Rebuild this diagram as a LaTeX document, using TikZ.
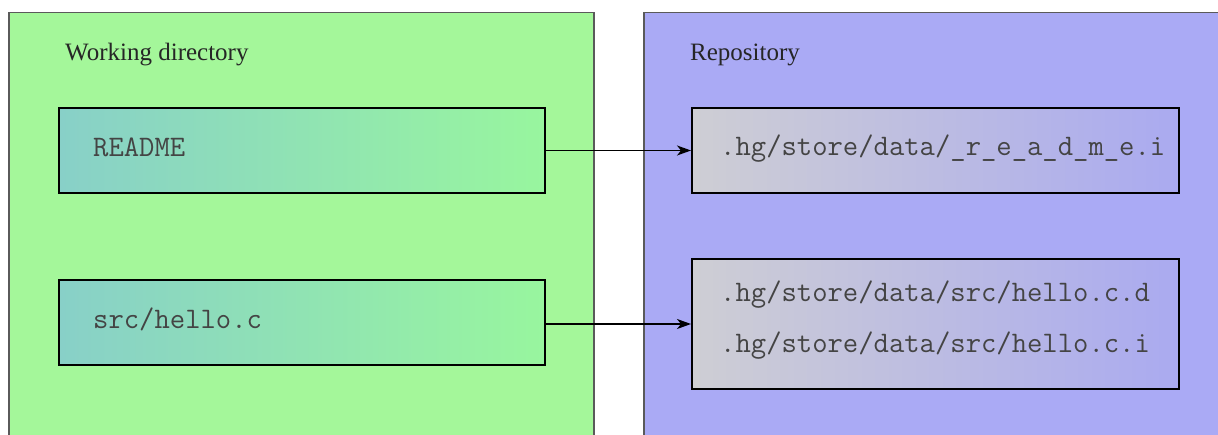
\documentclass[tikz,border=0pt]{standalone}
\usepackage{fontspec}
\setmainfont{Liberation Serif}
\usetikzlibrary{arrows.meta}
\definecolor{wdgreen}{RGB}{164,247,154}
\definecolor{repoblue}{RGB}{170,170,245}
\definecolor{panelline}{RGB}{90,90,90}
\definecolor{txtgray}{RGB}{68,68,68}
\definecolor{fileL}{RGB}{136,208,200}
\definecolor{fileM}{RGB}{116,240,192}
\definecolor{fileR}{RGB}{152,246,158}
\definecolor{storeL}{RGB}{206,206,212}
\definecolor{storeR}{RGB}{170,170,240}
\tikzset{
  panel/.style={draw=panelline, line width=1.5pt, rectangle, anchor=north west, inner sep=0pt},
  filebox/.style={draw=black, line width=2pt, rectangle, anchor=north west, inner sep=0pt,
    left color=fileL, middle color=fileM, right color=fileR},
  storebox/.style={draw=black, line width=2pt, rectangle, anchor=north west, inner sep=0pt,
    left color=storeL, right color=storeR},
  title/.style={anchor=base west, inner sep=0pt, text=black!85, font=\fontsize{25}{30}\selectfont},
  fname/.style={anchor=base west, inner sep=0pt, text=txtgray, font=\ttfamily\fontsize{29.8}{34}\selectfont},
  link/.style={draw=black, line width=1.5pt, -{Stealth[length=14pt,width=10pt,inset=4pt]}}
}
\begin{document}
\begin{tikzpicture}[x=1pt,y=-1pt]
\useasboundingbox (0,0) rectangle (1218,435);
\clip (0,0) rectangle (1218,435);
\node[panel, fill=wdgreen, minimum width=585pt, minimum height=440pt] (wd) at (8,12) {};
\node[panel, fill=repoblue, minimum width=600pt, minimum height=440pt] (repo) at (643,12) {};
\node[title] (wdt) at (65,61) {Working directory};
\node[title] (repot) at (690,61) {Repository};
\node[filebox, minimum width=486pt, minimum height=85pt] (readme) at (58,107) {};
\node[filebox, minimum width=486pt, minimum height=85pt] (hello) at (58,279) {};
\node[storebox, minimum width=487pt, minimum height=85pt] (rstore) at (691,107) {};
\node[storebox, minimum width=487pt, minimum height=130pt] (hstore) at (691,258) {};
\node[fname] (readmet) at (93,157) {README};
\node[fname] (hellot) at (93,329) {src/hello.c};
\node[fname] (rstoret) at (720,156) {.hg/store/data/\_r\_e\_a\_d\_m\_e.i};
\node[fname] (hstored) at (720,302) {.hg/store/data/src/hello.c.d};
\node[fname] (hstorei) at (720,353) {.hg/store/data/src/hello.c.i};
\draw[link] (readme.east |- rstore.west) -- (rstore.west);
\draw[link] (hello.east |- hstore.west) -- (hstore.west);
\end{tikzpicture}
\end{document}
